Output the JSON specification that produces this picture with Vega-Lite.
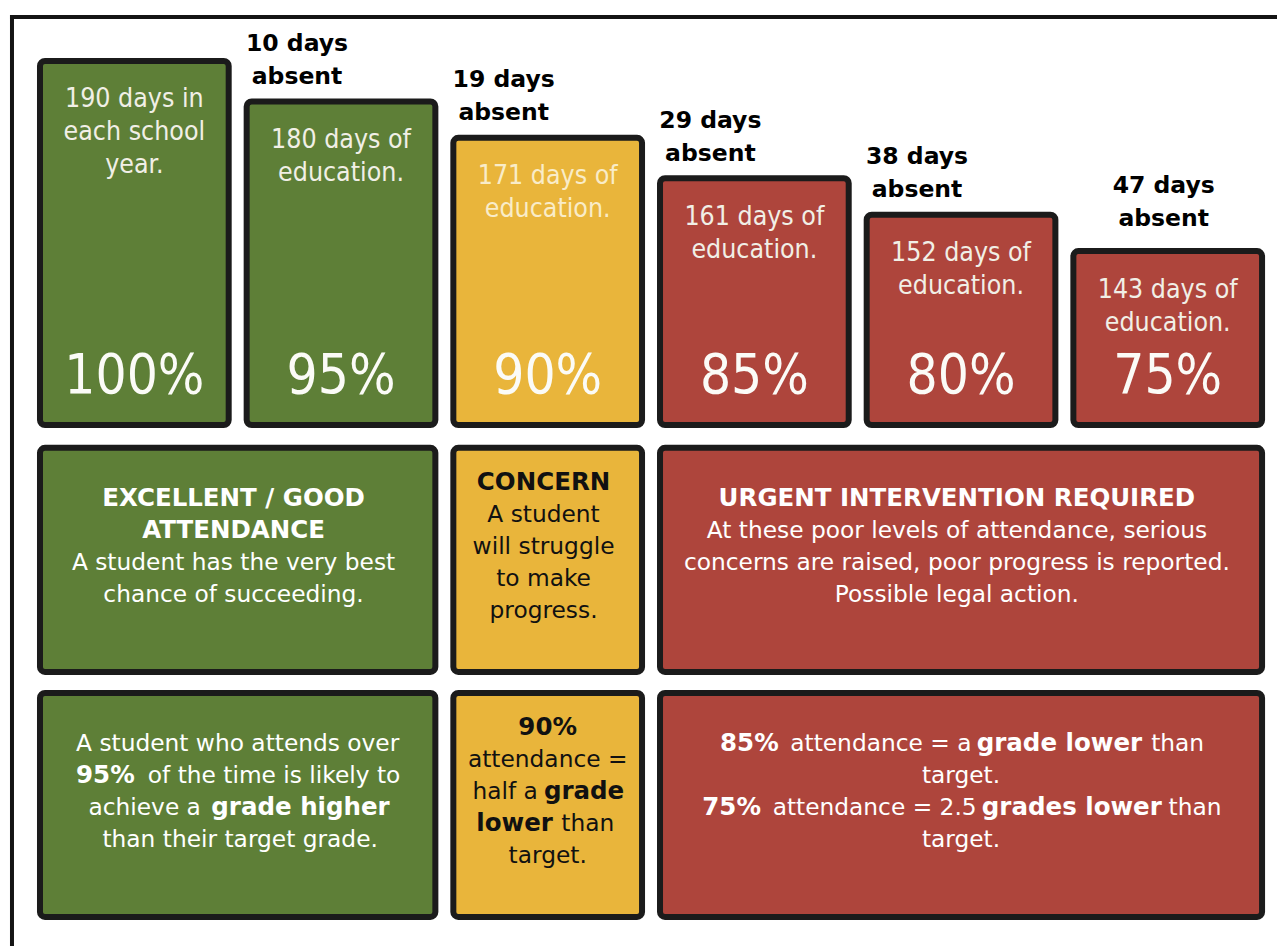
{
  "$schema": "https://vega.github.io/schema/vega-lite/v6.json",
  "width": 1277,
  "height": 946,
  "padding": 0,
  "autosize": {"type": "none"},
  "background": "#ffffff",
  "config": {"view": {"stroke": null}, "axis": {"disable": true}},
  "layer": [
    {
      "data": {"values": [
        {"attendance": 100, "days": 190, "absent": 0, "status": "good", "pct": "100%", "label": "190 days in\neach school\nyear.", "header": ""},
        {"attendance": 95, "days": 180, "absent": 10, "status": "good", "pct": "95%", "label": "180 days of\neducation.", "header": "10 days\nabsent"},
        {"attendance": 90, "days": 171, "absent": 19, "status": "concern", "pct": "90%", "label": "171 days of\neducation.", "header": "19 days\nabsent"},
        {"attendance": 85, "days": 161, "absent": 29, "status": "urgent", "pct": "85%", "label": "161 days of\neducation.", "header": "29 days\nabsent"},
        {"attendance": 80, "days": 152, "absent": 38, "status": "urgent", "pct": "80%", "label": "152 days of\neducation.", "header": "38 days\nabsent"},
        {"attendance": 75, "days": 143, "absent": 47, "status": "urgent", "pct": "75%", "label": "143 days of\neducation.", "header": "47 days\nabsent"}
      ]},
      "layer": [
        {
          "mark": {"type": "bar", "orient": "vertical", "width": 188.7, "cornerRadius": 5, "stroke": "#1b1b1b", "strokeWidth": 6},
          "encoding": {
            "x": {"field": "attendance", "type": "quantitative", "scale": {"domain": [72.356, 103.25], "reverse": true, "zero": false, "nice": false, "padding": 0}, "axis": null},
            "y": {"field": "days", "type": "quantitative", "scale": {"domain": [-28.8, 205.07], "zero": false, "nice": false, "padding": 0}, "axis": null},
            "y2": {"datum": 100.0},
            "color": {"field": "status", "type": "nominal", "scale": {"domain": ["good", "concern", "urgent"], "range": ["#5e7f37", "#e9b53b", "#ae453c"]}, "legend": null}
          }
        },
        {
          "mark": {"type": "text", "lineBreak": "\n", "align": "center", "baseline": "alphabetic", "dy": 46.5, "font": "DejaVu Sans Condensed, Open Sans", "fontSize": 26.5, "lineHeight": 33},
          "encoding": {
            "x": {"field": "attendance", "type": "quantitative", "scale": {"domain": [72.356, 103.25], "reverse": true, "zero": false, "nice": false, "padding": 0}, "axis": null},
            "y": {"field": "days", "type": "quantitative", "scale": {"domain": [-28.8, 205.07], "zero": false, "nice": false, "padding": 0}, "axis": null},
            "text": {"field": "label"},
            "color": {"condition": {"test": "datum.status === 'concern'", "value": "#f9ecc8"}, "value": "#f1efe6"}
          }
        },
        {
          "mark": {"type": "text", "align": "center", "baseline": "alphabetic", "dy": -32, "font": "DejaVu Sans Condensed, Open Sans", "fontSize": 54.5, "color": "#fbfbf7"},
          "encoding": {
            "x": {"field": "attendance", "type": "quantitative", "scale": {"domain": [72.356, 103.25], "reverse": true, "zero": false, "nice": false, "padding": 0}, "axis": null},
            "y": {"datum": 100.0},
            "text": {"field": "pct"}
          }
        },
        {
          "transform": [{"filter": "datum.absent > 0 && datum.attendance >= 80"}],
          "mark": {"type": "text", "lineBreak": "\n", "align": "center", "baseline": "alphabetic", "dx": -44, "dy": -50.5, "font": "DejaVu Sans", "fontWeight": "bold", "fontSize": 23.5, "lineHeight": 33, "color": "#000000"},
          "encoding": {
            "x": {"field": "attendance", "type": "quantitative", "scale": {"domain": [72.356, 103.25], "reverse": true, "zero": false, "nice": false, "padding": 0}, "axis": null},
            "y": {"field": "days", "type": "quantitative", "scale": {"domain": [-28.8, 205.07], "zero": false, "nice": false, "padding": 0}, "axis": null},
            "text": {"field": "header"}
          }
        },
        {
          "transform": [{"filter": "datum.attendance < 80"}],
          "mark": {"type": "text", "lineBreak": "\n", "align": "center", "baseline": "alphabetic", "dx": -4, "dy": -58, "font": "DejaVu Sans", "fontWeight": "bold", "fontSize": 23.5, "lineHeight": 33, "color": "#000000"},
          "encoding": {
            "x": {"field": "attendance", "type": "quantitative", "scale": {"domain": [72.356, 103.25], "reverse": true, "zero": false, "nice": false, "padding": 0}, "axis": null},
            "y": {"field": "days", "type": "quantitative", "scale": {"domain": [-28.8, 205.07], "zero": false, "nice": false, "padding": 0}, "axis": null},
            "text": {"field": "header"}
          }
        },
        {
          "data": {"values": [{"edge": "top"}]},
          "mark": {"type": "rule", "stroke": "#141414", "strokeWidth": 4, "strokeCap": "square"},
          "encoding": {
            "x": {"datum": 102.96, "type": "quantitative", "scale": {"domain": [72.356, 103.25], "reverse": true, "zero": false, "nice": false, "padding": 0}, "axis": null},
            "x2": {"datum": 72.356},
            "y": {"datum": 200.87, "type": "quantitative", "scale": {"domain": [-28.8, 205.07], "zero": false, "nice": false, "padding": 0}, "axis": null}
          }
        },
        {
          "data": {"values": [{"edge": "left"}]},
          "mark": {"type": "rule", "stroke": "#141414", "strokeWidth": 4, "strokeCap": "square"},
          "encoding": {
            "x": {"datum": 102.96, "type": "quantitative", "scale": {"domain": [72.356, 103.25], "reverse": true, "zero": false, "nice": false, "padding": 0}, "axis": null},
            "y": {"datum": 200.87, "type": "quantitative", "scale": {"domain": [-28.8, 205.07], "zero": false, "nice": false, "padding": 0}, "axis": null},
            "y2": {"datum": -28.8}
          }
        }
      ]
    },
    {
      "data": {"values": [
        {"tier": 2, "from": 100, "to": 95, "status": "good"},
        {"tier": 2, "from": 90, "to": 90, "status": "concern"},
        {"tier": 2, "from": 85, "to": 75, "status": "urgent"},
        {"tier": 3, "from": 100, "to": 95, "status": "good"},
        {"tier": 3, "from": 90, "to": 90, "status": "concern"},
        {"tier": 3, "from": 85, "to": 75, "status": "urgent"}
      ]},
      "mark": {"type": "rect", "cornerRadius": 5, "stroke": "#1b1b1b", "strokeWidth": 6, "xOffset": -94.35, "x2Offset": 94.35, "yOffset": -112.03, "y2Offset": 112.03},
      "encoding": {
        "x": {"field": "from", "type": "quantitative", "scale": {"domain": [72.356, 103.25], "reverse": true, "zero": false, "nice": false, "padding": 0}, "axis": null},
        "x2": {"field": "to"},
        "y": {"field": "tier", "type": "quantitative", "scale": {"domain": [-0.2846, 3.5757], "reverse": true, "zero": false, "nice": false, "padding": 0}, "axis": null},
        "y2": {"field": "tier"},
        "color": {"field": "status", "type": "nominal", "scale": {"domain": ["good", "concern", "urgent"], "range": ["#5e7f37", "#e9b53b", "#ae453c"]}, "legend": null}
      }
    },
    {
      "data": {"values": [
        {"tier": 2, "status": "good", "line": -1.5, "at": 97.6, "emphasis": true, "text": "EXCELLENT / GOOD"},
        {"tier": 2, "status": "good", "line": -0.5, "at": 97.6, "emphasis": true, "text": "ATTENDANCE"},
        {"tier": 2, "status": "good", "line": 0.5, "at": 97.6, "emphasis": false, "text": "A student has the very best"},
        {"tier": 2, "status": "good", "line": 1.5, "at": 97.6, "emphasis": false, "text": "chance of succeeding."},
        {"tier": 2, "status": "concern", "line": -2, "at": 90.1, "emphasis": true, "text": "CONCERN"},
        {"tier": 2, "status": "concern", "line": -1, "at": 90.1, "emphasis": false, "text": "A student"},
        {"tier": 2, "status": "concern", "line": 0, "at": 90.1, "emphasis": false, "text": "will struggle"},
        {"tier": 2, "status": "concern", "line": 1, "at": 90.1, "emphasis": false, "text": "to make"},
        {"tier": 2, "status": "concern", "line": 2, "at": 90.1, "emphasis": false, "text": "progress."},
        {"tier": 2, "status": "urgent", "line": -1.5, "at": 80.1, "emphasis": true, "text": "URGENT INTERVENTION REQUIRED"},
        {"tier": 2, "status": "urgent", "line": -0.5, "at": 80.1, "emphasis": false, "text": "At these poor levels of attendance, serious"},
        {"tier": 2, "status": "urgent", "line": 0.5, "at": 80.1, "emphasis": false, "text": "concerns are raised, poor progress is reported."},
        {"tier": 2, "status": "urgent", "line": 1.5, "at": 80.1, "emphasis": false, "text": "Possible legal action."},
        {"tier": 3, "status": "good", "line": -1.5, "at": 97.5, "emphasis": false, "text": "A student who attends over"},
        {"tier": 3, "status": "good", "line": -0.5, "at": 100.7, "emphasis": true, "text": "95%"},
        {"tier": 3, "status": "good", "line": -0.5, "at": 96.62, "emphasis": false, "text": "of the time is likely to"},
        {"tier": 3, "status": "good", "line": 0.5, "at": 99.75, "emphasis": false, "text": "achieve a"},
        {"tier": 3, "status": "good", "line": 0.5, "at": 95.98, "emphasis": true, "text": "grade higher"},
        {"tier": 3, "status": "good", "line": 1.5, "at": 97.44, "emphasis": false, "text": "than their target grade."},
        {"tier": 3, "status": "concern", "line": -2, "at": 90.0, "emphasis": true, "text": "90%"},
        {"tier": 3, "status": "concern", "line": -1, "at": 90.0, "emphasis": false, "text": "attendance ="},
        {"tier": 3, "status": "concern", "line": 0, "at": 91.03, "emphasis": false, "text": "half a"},
        {"tier": 3, "status": "concern", "line": 0, "at": 89.12, "emphasis": true, "text": "grade"},
        {"tier": 3, "status": "concern", "line": 1, "at": 90.8, "emphasis": true, "text": "lower"},
        {"tier": 3, "status": "concern", "line": 1, "at": 89.03, "emphasis": false, "text": "than"},
        {"tier": 3, "status": "concern", "line": 2, "at": 90.0, "emphasis": false, "text": "target."},
        {"tier": 3, "status": "urgent", "line": -1.5, "at": 85.12, "emphasis": true, "text": "85%"},
        {"tier": 3, "status": "urgent", "line": -1.5, "at": 81.94, "emphasis": false, "text": "attendance = a"},
        {"tier": 3, "status": "urgent", "line": -1.5, "at": 77.62, "emphasis": true, "text": "grade lower"},
        {"tier": 3, "status": "urgent", "line": -1.5, "at": 74.76, "emphasis": false, "text": "than"},
        {"tier": 3, "status": "urgent", "line": -0.5, "at": 80.0, "emphasis": false, "text": "target."},
        {"tier": 3, "status": "urgent", "line": 0.5, "at": 85.55, "emphasis": true, "text": "75%"},
        {"tier": 3, "status": "urgent", "line": 0.5, "at": 82.09, "emphasis": false, "text": "attendance = 2.5"},
        {"tier": 3, "status": "urgent", "line": 0.5, "at": 77.32, "emphasis": true, "text": "grades lower"},
        {"tier": 3, "status": "urgent", "line": 0.5, "at": 74.34, "emphasis": false, "text": "than"},
        {"tier": 3, "status": "urgent", "line": 1.5, "at": 80.0, "emphasis": false, "text": "target."}
      ]},
      "encoding": {
        "x": {"field": "at", "type": "quantitative", "scale": {"domain": [72.356, 103.25], "reverse": true, "zero": false, "nice": false, "padding": 0}, "axis": null},
        "y": {"field": "tier", "type": "ordinal", "scale": {"type": "band", "domain": [2, 3], "paddingInner": 0.0857, "paddingOuter": 0.973, "align": 0.939}, "axis": null},
        "yOffset": {"field": "line", "type": "quantitative", "scale": {"domain": [-1, 1], "range": [67, 131], "zero": false, "nice": false}},
        "text": {"field": "text"},
        "color": {"condition": {"test": "datum.status === 'concern'", "value": "#111111"}, "value": "#ffffff"}
      },
      "layer": [
        {
          "transform": [{"filter": "!datum.emphasis"}],
          "mark": {"type": "text", "align": "center", "baseline": "middle", "font": "DejaVu Sans", "fontSize": 23.3}
        },
        {
          "transform": [{"filter": "datum.emphasis"}],
          "mark": {"type": "text", "align": "center", "baseline": "middle", "font": "DejaVu Sans", "fontWeight": "bold", "fontSize": 24.5}
        }
      ]
    }
  ],
  "resolve": {"scale": {"y": "independent"}}
}
